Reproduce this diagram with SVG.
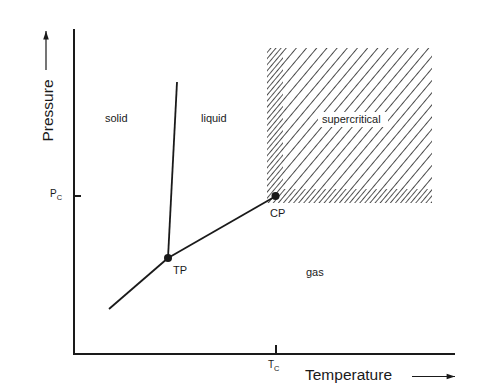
<svg xmlns="http://www.w3.org/2000/svg" width="504" height="388" viewBox="0 0 504 388">
<style>
.ax{stroke:#1a1a1a;stroke-width:2;fill:none}
.ln{stroke:#1a1a1a;stroke-width:1.8;fill:none}
.t{font-family:"Liberation Sans",Arial,sans-serif;fill:#1a1a1a}
.lbl{font-size:11px}
.big{font-size:15.5px}
</style>
<defs>
<pattern id="hatch" width="7.8" height="20" patternUnits="userSpaceOnUse" patternTransform="rotate(40)">
<path d="M0,-1 V21" stroke="#111" stroke-width="1.5"/>
</pattern>
<pattern id="hatch2" width="7.8" height="20" patternUnits="userSpaceOnUse" patternTransform="rotate(40) translate(3.9,0)">
<path d="M0,-1 V21" stroke="#111" stroke-width="1.4"/>
</pattern>
<marker id="ah" viewBox="0 0 12 10" refX="12" refY="5" markerWidth="12" markerHeight="7" markerUnits="userSpaceOnUse" orient="auto">
<path d="M0,1 L12,5 L0,9 Z" fill="#1a1a1a"/>
</marker>
</defs>
<rect width="504" height="388" fill="#fff"/>
<g id="supercritical-region">
<rect x="267" y="48" width="165" height="155" fill="url(#hatch)"/>
<rect x="267" y="48" width="16" height="155" fill="url(#hatch2)"/>
<rect x="283" y="189" width="149" height="14" fill="url(#hatch2)"/>
<rect x="318" y="112" width="70" height="15" fill="#fff"/>
<text class="t lbl" x="322" y="123">supercritical</text>
</g>
<g id="axes">
<path class="ax" d="M74,29 V354 H455"/>
<path class="ax" d="M74,196 H81"/>
<path class="ax" d="M276,345 V354"/>
<text class="t" x="50" y="197" font-size="10">P<tspan font-size="7.5" dy="3">C</tspan></text>
<text class="t" x="268" y="368" font-size="10">T<tspan font-size="7.5" dy="3">C</tspan></text>
<g id="pressure-label">
<path d="M46,70 V31" stroke="#1a1a1a" stroke-width="1.2" marker-end="url(#ah)"/>
<text class="t big" transform="translate(53,110.5) rotate(-90)" text-anchor="middle">Pressure</text>
</g>
<g id="temperature-label">
<text class="t big" x="305" y="380">Temperature</text>
<path d="M412,376.5 H455" stroke="#1a1a1a" stroke-width="1.2" marker-end="url(#ah)"/>
</g>
</g>
<g id="connectors">
<path class="ln" d="M109,309 L168,258"/>
<path class="ln" d="M168,258 L177,82"/>
<path class="ln" d="M168,258 L276,196"/>
</g>
<g id="TP">
<circle cx="168" cy="258" r="4" fill="#1a1a1a"/>
<text class="t lbl" x="173" y="274">TP</text>
</g>
<g id="CP">
<circle cx="275.5" cy="196" r="4" fill="#1a1a1a"/>
<text class="t lbl" x="270" y="217">CP</text>
</g>
<g id="solid"><text class="t lbl" x="105" y="122">solid</text></g>
<g id="liquid"><text class="t lbl" x="201" y="122">liquid</text></g>
<g id="gas"><text class="t lbl" x="306" y="276">gas</text></g>
</svg>
